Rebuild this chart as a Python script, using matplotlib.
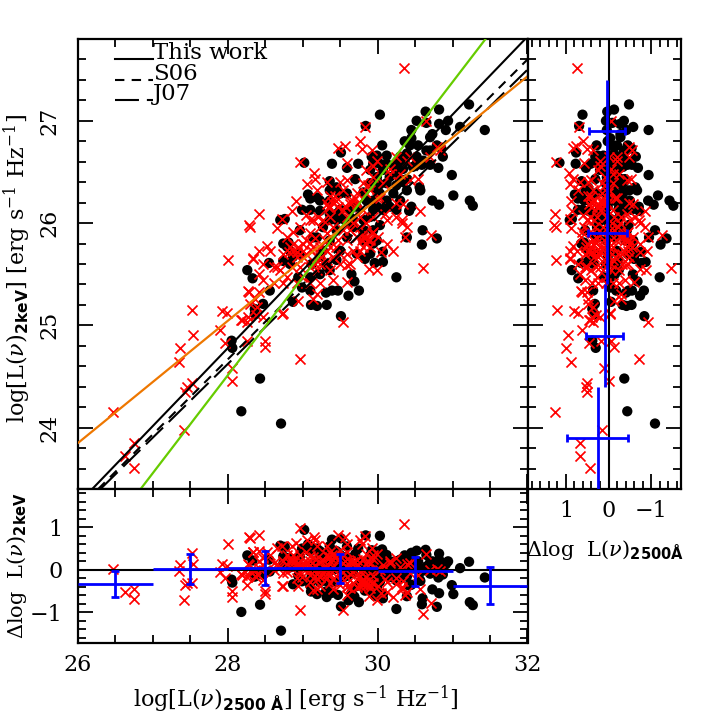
import matplotlib
matplotlib.use('Agg')
import matplotlib.pyplot as plt
from matplotlib.ticker import MultipleLocator

plt.rcParams['font.family'] = 'DejaVu Serif'
plt.rcParams['mathtext.fontset'] = 'custom'
plt.rcParams['mathtext.rm'] = 'DejaVu Serif'
plt.rcParams['mathtext.it'] = 'DejaVu Serif:italic'
plt.rcParams['mathtext.bf'] = 'DejaVu Sans:bold'

# black circles: log L2500, log L2keV, residual in L2keV, residual in L2500
black_x = [30.03, 29.84, 30.82, 30.64, 31.22, 30.52, 30.65, 30.82, 30.94, 30.91, 31.10, 31.43, 30.45, 30.73, 30.36, 30.45,
           30.70, 30.43, 30.54, 30.65, 30.06, 30.79, 30.87, 30.85, 29.51, 29.02, 29.39, 29.59, 29.74, 29.92, 29.99, 30.12,
           30.30, 29.94, 30.07, 30.21, 30.34, 30.47, 30.70, 30.81, 30.59, 30.99, 29.36, 29.70, 29.99, 30.16, 30.30, 30.39,
           30.56, 30.57, 31.01, 30.73, 30.82, 31.23, 31.27, 30.45, 30.42, 29.07, 29.10, 29.45, 29.59, 29.81, 29.99, 30.21,
           30.39, 29.23, 29.36, 29.94, 30.12, 30.30, 28.99, 29.10, 29.23, 29.36, 29.50, 29.72, 29.94, 30.07, 28.70, 28.76,
           29.45, 29.59, 29.81, 30.03, 29.94, 28.96, 30.60, 30.59, 30.79, 30.39, 28.81, 28.79, 29.36, 29.59, 29.81, 29.99,
           30.07, 30.07, 29.96, 29.83, 29.65, 29.69, 30.25, 29.75, 29.61, 29.47, 29.39, 29.31, 29.32, 29.19, 29.11, 29.51,
           28.56, 28.26, 28.33, 28.55, 28.74, 28.87, 29.12, 29.32, 29.45, 28.99, 28.87, 28.47, 28.36, 28.36, 29.10, 29.23,
           28.94, 29.27, 29.50, 29.72, 28.83, 28.96, 29.19, 29.27, 29.41, 29.63, 29.90, 29.45, 29.67, 29.81, 28.05, 28.06,
           28.43, 28.18, 28.71,
           30.03, 30.12, 30.25, 30.36, 30.01, 30.12, 30.25, 30.34, 29.90, 30.03, 29.85, 29.99, 30.16, 30.25, 29.36, 29.45,
           29.54, 29.67, 29.36, 29.50, 29.19, 29.90, 30.25, 30.52, 30.61, 30.70, 30.52, 30.39, 29.94, 29.90, 29.36, 29.10,
           28.83, 28.74, 29.14, 29.23]
black_y = [27.06, 26.95, 27.11, 27.09, 27.16, 27.00, 26.98, 26.97, 27.00, 26.91, 26.94, 26.91, 26.91, 26.87, 26.80, 26.83,
           26.84, 26.76, 26.76, 26.71, 26.76, 26.76, 26.65, 26.73, 26.69, 26.59, 26.58, 26.54, 26.58, 26.65, 26.66, 26.66,
           26.65, 26.58, 26.52, 26.55, 26.53, 26.55, 26.57, 26.54, 26.57, 26.47, 26.41, 26.43, 26.45, 26.45, 26.43, 26.43,
           26.35, 26.32, 26.27, 26.22, 26.18, 26.22, 26.17, 26.16, 26.12, 26.28, 26.24, 26.35, 26.29, 26.30, 26.32, 26.29,
           26.32, 26.22, 26.22, 26.22, 26.22, 26.22, 26.13, 26.13, 26.12, 26.09, 26.13, 26.16, 26.13, 26.13, 26.03, 26.04,
           26.03, 26.01, 26.03, 25.98, 25.93, 25.93, 25.93, 25.79, 25.85, 25.86, 25.81, 25.77, 25.83, 25.86, 25.83, 25.83,
           25.72, 25.62, 25.61, 25.65, 25.50, 25.43, 25.47, 25.34, 25.29, 25.34, 25.34, 25.32, 25.20, 25.19, 25.20, 25.09,
           25.34, 25.54, 25.46, 25.61, 25.63, 25.67, 25.60, 25.57, 25.64, 25.37, 25.23, 25.21, 25.16, 25.11, 25.47, 25.50,
           25.47, 25.73, 25.73, 25.70, 25.73, 25.70, 25.86, 25.96, 26.06, 26.13, 26.06, 25.93, 25.96, 25.93, 24.85, 24.78,
           24.48, 24.16, 24.04,
           26.58, 26.58, 26.58, 26.60, 26.39, 26.39, 26.37, 26.40, 26.39, 26.29, 26.22, 26.16, 26.16, 26.13, 26.03, 26.09,
           26.04, 26.04, 26.32, 26.29, 26.25, 26.52, 26.50, 26.58, 26.61, 26.71, 26.65, 26.68, 25.80, 25.70, 25.54, 25.34,
           25.60, 25.80, 25.86, 25.67]
black_dy = [.80, .81, .38, .47, .19, .45, .35, .24, .20, .13, .04, -.18, .40, .20, .34, .32,
            .18, .27, .20, .08, .48, .05, -.11, -.02, .74, .94, .71, .55, .50, .46, .43, .35,
            .24, .38, .24, .19, .09, .03, -.09, -.18, -.03, -.36, .56, .37, .22, .12, .02, -.04,
            -.23, -.26, -.57, -.46, -.55, -.76, -.83, -.35, -.37, .60, .54, .44, .30, .17, .09, -.08,
            -.16, .44, .37, .02, -.09, -.20, .50, .43, .34, .24, .19, .09, -.07, -.15, .57, .54,
            .12, .02, -.10, -.28, -.28, .31, -.67, -.81, -.87, -.62, .28, .25, -.03, -.14, -.30, -.41,
            -.57, -.67, -.61, -.49, -.54, -.63, -.92, -.76, -.72, -.59, -.54, -.51, -.64, -.57, -.51, -.86,
            -.04, .34, .22, .24, .15, .11, -.12, -.27, -.28, -.27, -.34, -.12, -.11, -.16, -.24, -.29,
            -.14, -.08, -.22, -.38, .19, .09, .11, .16, .17, .12, -.12, .02, -.08, -.19, -.23, -.30,
            -.82, -.99, -1.43,
            .33, .27, .20, .15, .15, .08, -.02, -.04, .21, .04, .07, -.07, -.17, -.25, .18, .18,
            .08, .00, .47, .35, .50, .34, .12, .03, .01, .06, .10, .21, -.40, -.48, -.31, -.37,
            .06, .32, .14, -.11]
black_dx = [.61, .69, -.13, .03, -.48, .06, -.09, -.27, -.36, -.42, -.58, -.94, .04, -.28, .02, -.04,
            -.28, -.09, -.20, -.36, .28, -.45, -.64, -.54, .76, 1.15, .77, .53, .42, .31, .25, .12,
            -.07, .22, .03, -.08, -.23, -.34, -.55, -.69, -.44, -.94, .63, .31, .04, -.13, -.29, -.38,
            -.63, -.67, -1.16, -.93, -1.06, -1.43, -1.52, -.71, -.72, .79, .72, .48, .28, .07, -.09, -.34,
            -.49, .57, .44, -.14, -.32, -.50, .72, .61, .47, .31, .21, .02, -.23, -.36, .91, .86,
            .16, .00, -.20, -.47, -.43, .55, -1.09, -1.22, -1.36, -.95, .58, .56, .05, -.15, -.40, -.58,
            -.77, -.87, -.77, -.60, -.57, -.68, -1.20, -.83, -.74, -.55, -.47, -.41, -.54, -.42, -.33, -.84,
            .36, .86, .71, .64, .47, .38, .06, -.17, -.23, -.04, -.06, .32, .38, .33, -.05, -.15,
            .11, .04, -.19, -.44, .48, .32, .25, .27, .23, .08, -.26, .06, -.13, -.30, .38, .30,
            -.37, -.44, -1.09,
            .13, .04, -.09, -.18, -.04, -.15, -.30, -.36, .07, -.16, -.05, -.25, -.42, -.54, .25, .22,
            .08, -.05, .54, .37, .64, .20, -.17, -.36, -.42, -.41, -.29, -.13, -.56, -.62, -.24, -.18,
            .35, .64, .30, .02]

# red crosses, same four columns
red_x = [26.47, 26.75, 26.63, 26.75, 27.41, 27.45, 27.43, 27.52, 27.36, 27.35, 27.54, 27.52, 27.90, 27.92, 27.99, 27.96,
         28.05, 28.06, 28.25, 28.50, 28.50, 28.96, 28.74, 28.17, 28.25, 28.27, 28.38, 28.00, 28.34,
         30.35, 29.83, 30.65, 30.79, 30.83, 29.47, 29.56, 29.77, 29.79, 29.92, 29.59, 28.96, 29.15, 29.17, 29.06, 29.32,
         29.50, 29.59, 29.85, 29.94, 30.16, 30.25, 30.39, 30.54, 28.91, 28.41, 28.28, 28.30, 28.65, 28.72, 28.85, 29.05,
         29.19, 29.36, 29.45, 29.54, 29.67, 29.72, 29.87, 29.99, 30.10, 30.25, 30.34, 30.56, 30.32, 30.32, 30.36, 30.71,
         30.61, 30.21, 30.13, 30.05, 30.01, 29.94, 29.81, 29.85, 29.76, 29.72, 29.63, 29.59, 29.88, 29.99, 29.59, 29.41,
         29.23, 29.19, 29.14, 28.94, 28.74, 28.72, 28.47, 28.41, 28.41, 28.52, 28.33, 28.47, 28.61, 28.70, 28.28, 28.41,
         28.36, 28.27, 28.19, 28.47, 29.54, 28.79, 28.87, 28.96, 29.14, 29.23, 29.32, 29.41, 29.05, 29.14, 28.83, 28.92,
         29.01, 29.10, 29.23, 29.32, 29.50, 29.59, 29.67, 29.76, 28.74, 28.65, 28.85, 28.99, 29.10, 29.36, 29.45, 29.10,
         29.36, 29.54, 29.63, 29.85, 29.32, 29.36, 29.94, 29.85, 29.79, 29.90, 29.81, 29.90, 29.63, 29.72, 29.41, 29.19,
         28.92, 28.79, 28.61, 28.30, 28.39, 28.56, 28.87, 29.01, 29.19, 29.59, 30.03, 30.12, 30.25, 30.39, 29.81, 29.72,
         29.90, 30.30, 29.99, 30.16, 30.43, 30.70, 30.43,
         29.63, 29.70, 29.74, 29.39, 29.43, 29.34, 29.83, 29.87, 29.79, 29.92, 28.87, 28.81, 28.94, 29.01, 29.10, 29.16,
         28.92, 29.05, 29.23, 29.30, 29.12, 28.96, 29.16, 29.25, 29.36, 29.47, 29.54, 29.59, 29.47, 29.56, 29.21, 29.10,
         29.27, 29.81, 29.94, 30.07, 29.76, 29.67, 29.50, 29.32]
red_y = [24.15, 23.85, 23.72, 23.61, 23.98, 24.40, 24.35, 24.44, 24.78, 24.64, 24.91, 25.15, 24.95, 25.14, 25.12, 24.83,
         24.58, 24.46, 24.85, 24.85, 24.79, 24.67, 25.12, 25.05, 25.03, 25.34, 25.10, 25.64, 25.66,
         27.52, 26.94, 27.00, 26.74, 26.71, 26.73, 26.75, 26.80, 26.72, 26.71, 26.59, 26.60, 26.49, 26.43, 26.38, 26.40,
         26.40, 26.42, 26.52, 26.56, 26.53, 26.65, 26.61, 26.43, 26.22, 26.09, 25.98, 25.96, 25.95, 26.04, 26.12, 26.08,
         26.32, 26.26, 26.22, 26.32, 26.22, 26.19, 26.37, 26.25, 26.09, 26.20, 26.19, 26.12, 26.00, 26.03, 25.86, 25.88,
         25.56, 25.73, 25.80, 25.72, 25.86, 25.91, 25.86, 25.80, 25.73, 25.67, 25.60, 25.59, 25.55, 25.54, 25.42, 25.44,
         25.41, 25.31, 25.26, 25.24, 25.41, 25.11, 25.44, 25.50, 25.73, 25.78, 25.65, 25.60, 25.57, 25.54, 25.33, 25.33,
         25.26, 25.08, 25.05, 25.08, 25.03, 25.86, 25.91, 25.96, 26.03, 25.96, 25.90, 25.96, 25.83, 25.77, 25.77, 25.72,
         25.67, 25.57, 25.60, 25.73, 25.70, 25.83, 26.00, 26.06, 25.70, 25.57, 25.57, 25.47, 25.41, 25.54, 25.77, 25.90,
         26.06, 26.13, 26.19, 26.29, 26.19, 26.16, 26.06, 26.00, 25.83, 25.83, 25.77, 25.77, 25.93, 25.86, 25.67, 25.54,
         25.41, 25.47, 25.41, 25.21, 25.18, 25.73, 25.80, 25.73, 25.67, 25.70, 26.25, 26.03, 26.06, 25.96, 26.13, 26.29,
         26.32, 26.48, 26.61, 26.48, 26.65, 26.65, 26.42,
         26.22, 26.25, 26.20, 26.21, 26.26, 26.16, 25.85, 25.83, 25.88, 25.90, 25.73, 25.72, 25.77, 25.80, 25.81, 25.85,
         25.67, 25.70, 25.77, 25.83, 25.73, 25.57, 25.60, 25.67, 25.77, 25.83, 25.93, 26.06, 26.16, 26.17, 26.06, 26.03,
         26.03, 26.39, 26.45, 26.39, 25.96, 25.73, 25.60, 25.64]
red_dy = [.02, -.45, -.51, -.69, -.71, -.32, -.36, -.32, .12, -.02, .14, .39, -.04, .14, .08, -.20,
          -.50, -.63, -.35, -.50, -.56, -.95, -.37, -.10, -.17, .14, -.18, .60, .41,
          1.08, .80, .37, .03, -.03, .81, .77, .70, .61, .52, .60, .98, .76, .69, .70, .57,
          .46, .43, .37, .36, .20, .27, .14, -.13, .64, .81, .77, .74, .52, .57, .57, .41,
          .57, .41, .31, .36, .18, .12, .21, .02, -.21, -.19, -.26, -.46, -.44, -.40, -.59, -.79,
          -1.05, -.64, -.52, -.55, -.39, -.30, -.27, -.36, -.37, -.41, -.42, -.41, -.62, -.70, -.58, -.45,
          -.38, -.45, -.47, -.37, -.08, -.37, .12, .21, .44, .42, .41, .27, .16, .07, .12, .05,
          -.01, -.13, -.11, -.25, -.94, .35, .35, .35, .31, .18, .07, .07, .16, .04, .23, .13,
          .02, -.13, -.18, -.10, -.24, -.16, -.04, -.03, .21, .14, .02, -.17, -.29, -.32, -.14, .20,
          .21, .17, .18, .14, .36, .31, -.14, -.16, -.29, -.36, -.36, -.42, -.09, -.22, -.22, -.22,
          -.19, -.05, .00, -.02, -.10, .36, .24, .09, -.09, -.30, .00, -.29, -.33, -.52, .00, .22,
          .13, .07, .38, .15, .16, .00, -.08,
          .21, .19, .12, .34, .36, .31, -.29, -.34, -.23, -.30, .17, .19, .17, .15, .11, .11,
          .08, .03, -.01, .01, .02, -.05, -.14, -.13, -.09, -.10, -.04, .07, .23, .20, .29, .33,
          .23, .26, .25, .11, -.14, -.31, -.35, -.19]
red_dx = [1.26, .68, .67, .44, .15, .53, .50, .50, 1.00, .87, .95, 1.21, .63, .80, .71, .45,
          .11, -.02, .18, -.07, -.13, -.71, -.04, .46, .36, .65, .30, 1.22, .90,
          .75, .69, -.07, -.47, -.54, .84, .77, .61, .51, .37, .58, 1.22, .92, .84, .90, .66,
          .48, .41, .25, .20, -.05, -.02, -.20, -.53, .89, 1.26, 1.28, 1.24, .88, .90, .85, .61,
          .71, .48, .35, .36, .13, .05, .08, -.16, -.43, -.47, -.57, -.86, -.74, -.71, -.92, -1.25,
          -1.47, -.90, -.75, -.75, -.57, -.45, -.37, -.47, -.45, -.47, -.45, -.42, -.75, -.87, -.59, -.39,
          -.24, -.30, -.30, -.12, .25, -.03, .55, .67, .90, .84, .90, .71, .54, .42, .63, .50,
          .48, .39, .44, .19, -.93, .65, .62, .58, .47, .31, .16, .13, .36, .21, .52, .38,
          .24, .05, -.05, -.01, -.22, -.18, -.09, -.12, .54, .50, .30, .06, -.11, -.24, -.10, .38,
          .28, .17, .14, .02, .45, .38, -.30, -.27, -.38, -.49, -.46, -.55, -.12, -.28, -.16, -.07,
          .07, .26, .38, .49, .37, .75, .51, .30, .06, -.31, -.20, -.51, -.61, -.85, -.10, .15,
          .00, -.24, .20, -.10, -.20, -.47, -.43,
          .17, .13, .04, .40, .41, .40, -.40, -.46, -.33, -.44, .44, .49, .41, .37, .29, .27,
          .33, .23, .12, .11, .19, .19, .02, .00, -.01, -.06, -.03, .05, .27, .19, .43, .51,
          .34, .16, .09, -.10, -.22, -.36, -.32, -.10]

# fit lines, end points in the main panel
solid_x = [26.19, 31.97]
solid_y = [23.40, 27.80]
s06_x = [26.27, 32.0]
s06_y = [23.40, 27.60]
j07_x = [26.30, 32.0]
j07_y = [23.40, 27.50]
orange_x = [26.0, 32.0]
orange_y = [23.85, 27.435]
green_x = [26.836, 31.44]
green_y = [23.40, 27.80]

# binned means and spreads
bot_centers = [26.5, 27.5, 28.5, 29.5, 30.5, 31.5]
bot_mean = [-.33, .02, .04, .04, -.03, -.37]
bot_lo = [-.64, -.33, -.35, -.30, -.37, -.80]
bot_hi = [-.03, .37, .45, .38, .31, .06]
right_centers = [23.9, 24.9, 25.9, 26.9]
right_mean = [.25, .09, .03, .03]
right_lo = [-.47, -.35, -.43, -.40]
right_hi = [.95, .53, .49, .45]

BLUE = '#0000ff'
W, H = 719.0, 719.0
S06_DASH = (4.5, 3.5)
J07_DASH = (11.5, 3.8)


def make_axes(fig, x0, x1, y0, y1):
    return fig.add_axes([x0 / W, 1 - y1 / H, (x1 - x0) / W, (y1 - y0) / H])


def style_axes(ax, xmaj, xmin, ymaj, ymin):
    ax.xaxis.set_major_locator(MultipleLocator(xmaj))
    ax.xaxis.set_minor_locator(MultipleLocator(xmin))
    ax.yaxis.set_major_locator(MultipleLocator(ymaj))
    ax.yaxis.set_minor_locator(MultipleLocator(ymin))
    ax.tick_params(which='major', direction='in', top=True, right=True, length=11, width=1.3)
    ax.tick_params(which='minor', direction='in', top=True, right=True, length=5.8, width=1.3)
    for s in ax.spines.values():
        s.set_linewidth(1.6)


def points(ax, xb, yb, xr, yr):
    ax.scatter(xb, yb, s=55, c='black', edgecolors='none', zorder=2)
    ax.scatter(xr, yr, s=52, c='#ff0000', marker='x', linewidths=1.25, zorder=3)


fig = plt.figure(figsize=(7.19, 7.19), dpi=100)

# main panel
ax = make_axes(fig, 78, 527.5, 39, 489)
points(ax, black_x, black_y, red_x, red_y)
ax.plot(solid_x, solid_y, color='black', lw=1.5, zorder=4)
ax.plot(s06_x, s06_y, color='black', lw=1.5, dashes=S06_DASH, zorder=4)
ax.plot(j07_x, j07_y, color='black', lw=1.5, dashes=J07_DASH, zorder=4)
ax.plot(green_x, green_y, color='#66cc00', lw=1.6, zorder=5)
ax.plot(orange_x, orange_y, color='#ee7700', lw=1.6, zorder=5)
ax.set_xlim(26, 32)
ax.set_ylim(23.4, 27.8)
style_axes(ax, 2, 0.5, 1, 0.2)
ax.tick_params(axis='x', labelbottom=False)
ax.tick_params(axis='y', labelsize=16, pad=13)
for t in ax.get_yticklabels():
    t.set_rotation(90)
    t.set_va('center')

# legend drawn by hand as in the original
for ly, label, dash in [(27.6, 'This work', None), (27.4, 'S06', S06_DASH), (27.2, 'J07', J07_DASH)]:
    line, = ax.plot([26.5, 27.0], [ly, ly], color='black', lw=1.5)
    if dash:
        line.set_dashes(dash)
    ax.text(27.0, ly, label, fontsize=16.5, va='baseline', ha='left')

# bottom panel
axb = make_axes(fig, 78, 527.5, 489, 643)
points(axb, black_x, black_dy, red_x, red_dy)
axb.axhline(0, color='black', lw=1.5, zorder=4)
for i, c in enumerate(bot_centers):
    axb.hlines(bot_mean[i], c - 0.5, c + 0.5, color=BLUE, lw=2.0, zorder=6)
    axb.errorbar(c, bot_mean[i], yerr=[[bot_mean[i] - bot_lo[i]], [bot_hi[i] - bot_mean[i]]],
                 color=BLUE, elinewidth=2.0, capsize=3, capthick=2.0, zorder=6)
axb.set_xlim(26, 32)
axb.set_ylim(-1.72, 1.9)
style_axes(axb, 2, 0.5, 1, 0.2)
axb.tick_params(axis='x', labelsize=16, pad=8)
axb.tick_params(axis='y', labelsize=16, pad=11)

# right panel
axr = make_axes(fig, 527.5, 681, 39, 489)
points(axr, black_dx, black_y, red_dx, red_y)
axr.axvline(0, color='black', lw=1.5, zorder=4)
for i, c in enumerate(right_centers):
    axr.vlines(right_mean[i], c - 0.5, c + 0.5, color=BLUE, lw=2.0, zorder=6)
    axr.errorbar(right_mean[i], c, xerr=[[right_hi[i] - right_mean[i]], [right_mean[i] - right_lo[i]]],
                 color=BLUE, elinewidth=2.0, capsize=3, capthick=2.0, zorder=6)
axr.set_xlim(1.9, -1.7)
axr.set_ylim(23.4, 27.8)
style_axes(axr, 1, 0.2, 1, 0.2)
axr.tick_params(axis='y', labelleft=False)
axr.tick_params(axis='x', labelsize=16, pad=8)

# axis labels
fig.text(296 / W, 1 - 699 / H, r'log[L($\nu$)$_{\mathbf{2500\ \AA}}$] [erg s$^{-1}$ Hz$^{-1}$]',
         fontsize=16, ha='center', va='center')
fig.text(17 / W, 1 - 268 / H, r'log[L($\nu$)$_{\mathbf{2keV}}$] [erg s$^{-1}$ Hz$^{-1}$]',
         fontsize=16, ha='center', va='center', rotation=90)
fig.text(17 / W, 1 - 565 / H, r'$\Delta$log  L($\nu$)$_{\mathbf{2keV}}$',
         fontsize=15, ha='center', va='center', rotation=90)
fig.text(605 / W, 1 - 550 / H, r'$\Delta$log  L($\nu$)$_{\mathbf{2500\AA}}$',
         fontsize=15, ha='center', va='center')

fig.savefig('out.png', dpi=100)
